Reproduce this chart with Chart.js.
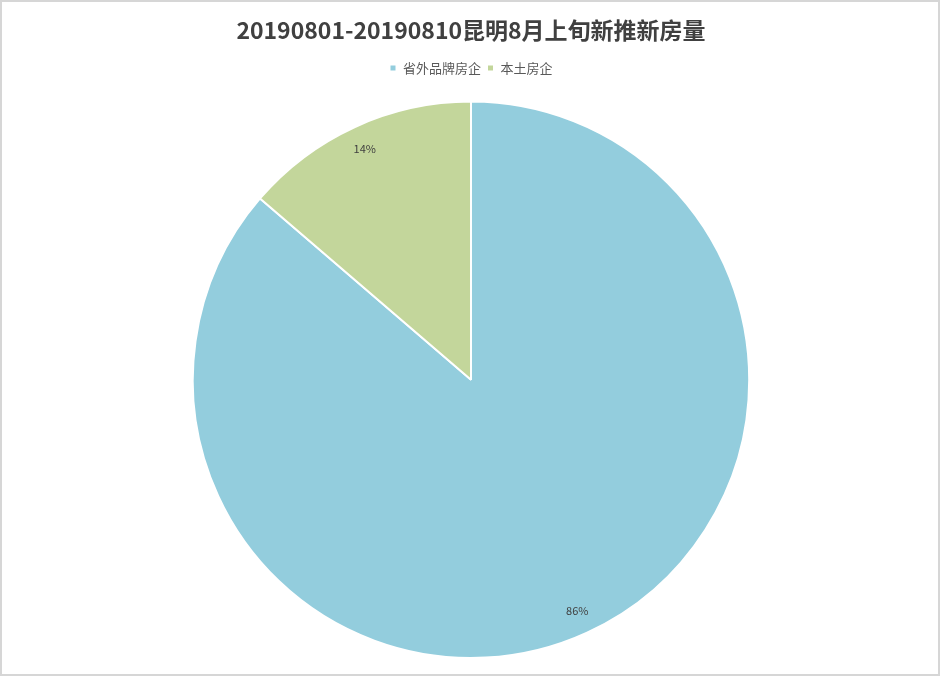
<!DOCTYPE html>
<html>
<head>
<meta charset="utf-8">
<script src="https://cdn.jsdelivr.net/npm/chart.js"></script>
<style>
  html, body { margin: 0; padding: 0; background: #fff; }
  #box { width: 940px; height: 676px; box-sizing: border-box; border: 2px solid #d6d6d6; position: relative; }
</style>
</head>
<body>
<div id="box"><canvas id="pieChart"></canvas></div>
<script>
// 房企类型和占比
var categories = ['省外品牌房企', '本土房企'];
var shares = [86.3, 13.7];
var sliceColors = ['#93cddd', '#c3d69b'];

// 图例下面多留一点空白
var legendGap = {
    id: 'legendGap',
    beforeInit: function(chart) {
        var origFit = chart.legend.fit;
        chart.legend.fit = function() {
            origFit.bind(chart.legend)();
            this.height += 16;
        };
    }
};

// 在扇区内部画百分比
var pctLabels = {
    id: 'pctLabels',
    afterDatasetsDraw: function(chart) {
        var ctx = chart.ctx;
        var meta = chart.getDatasetMeta(0);
        var total = shares.reduce(function(a, b) { return a + b; }, 0);
        ctx.save();
        ctx.font = '11px "Noto Sans CJK SC", sans-serif';
        ctx.fillStyle = '#404040';
        ctx.textAlign = 'center';
        ctx.textBaseline = 'middle';
        meta.data.forEach(function(arc, i) {
            var mid = (arc.startAngle + arc.endAngle) / 2;
            var r = arc.outerRadius * 0.915;
            var x = arc.x + Math.cos(mid) * r;
            var y = arc.y + Math.sin(mid) * r;
            ctx.fillText(Math.round(shares[i] / total * 100) + '%', x, y);
        });
        ctx.restore();
    }
};

new Chart(document.getElementById('pieChart'), {
    type: 'pie',
    data: {
        labels: categories,
        datasets: [{
            data: shares,
            backgroundColor: sliceColors,
            borderColor: '#ffffff',
            borderWidth: 2
        }]
    },
    options: {
        responsive: true,
        maintainAspectRatio: false,
        animation: false,
        layout: { padding: { top: 0, bottom: 15, left: 2 } },
        plugins: {
            title: {
                display: true,
                text: '20190801-20190810昆明8月上旬新推新房量',
                color: '#404040',
                font: { family: '"Noto Sans CJK SC", sans-serif', size: 23, weight: 'bold' },
                padding: { top: 14, bottom: 12 }
            },
            legend: {
                position: 'top',
                labels: {
                    color: '#595959',
                    font: { family: '"Noto Sans CJK SC", sans-serif', size: 13 },
                    boxWidth: 7,
                    boxHeight: 7,
                    padding: 6
                }
            },
            tooltip: { enabled: false }
        }
    },
    plugins: [legendGap, pctLabels]
});
</script>
</body>
</html>
